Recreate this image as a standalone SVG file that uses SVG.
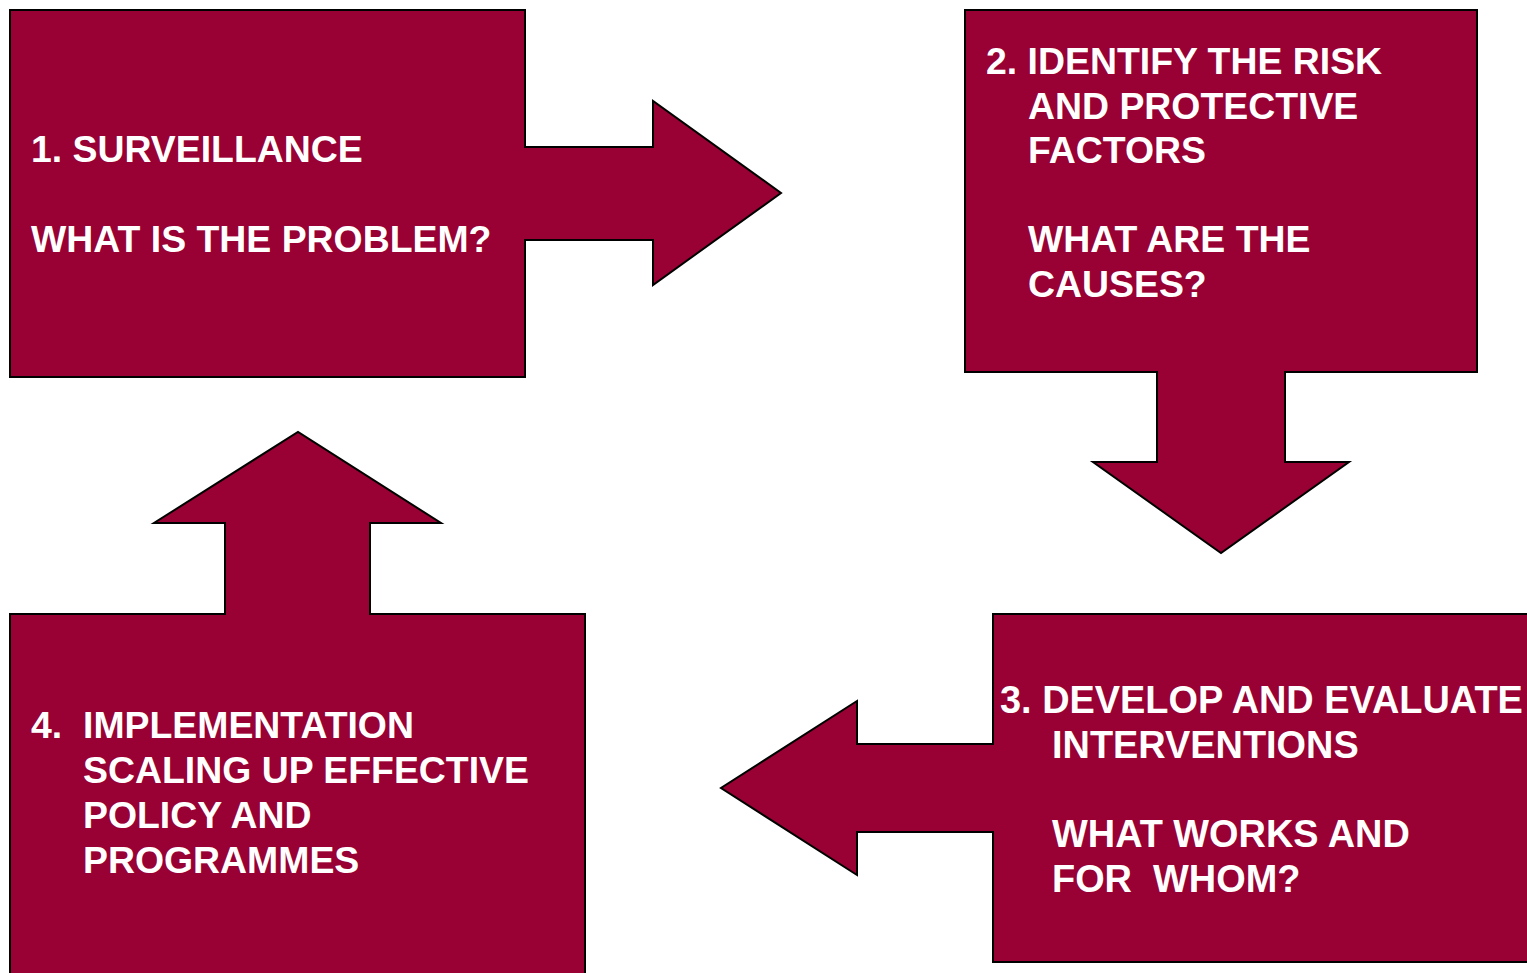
<svg xmlns="http://www.w3.org/2000/svg" width="1527" height="973" viewBox="0 0 1527 973">
<style>
.shape{fill:#990033;stroke:#000;stroke-width:2;stroke-linejoin:miter}
.t{font-family:"Liberation Sans",Arial,sans-serif;font-weight:bold;font-size:37.4px;fill:#fff;white-space:pre}
.t3{font-size:37.9px}
</style>
<rect width="1527" height="973" fill="#fff"/>
<g id="node1">
<path class="shape" d="M10,10 H525 V147 H653 V101 L781,193 L653,285 V240 H525 V377 H10 Z"/>
<text class="t" x="31" y="162">1. SURVEILLANCE</text>
<text class="t" x="31" y="252">WHAT IS THE PROBLEM?</text>
</g>
<g id="node2">
<path class="shape" d="M965,10 H1477 V372 H1285 V462 H1349 L1221,553 L1093,462 H1157 V372 H965 Z"/>
<text class="t" x="986" y="74">2. IDENTIFY THE RISK</text>
<text class="t" x="1028" y="119">AND PROTECTIVE</text>
<text class="t" x="1028" y="163">FACTORS</text>
<text class="t" x="1028" y="252">WHAT ARE THE</text>
<text class="t" x="1028" y="297">CAUSES?</text>
</g>
<g id="node3">
<path class="shape" d="M993,614 H1540 V962 H993 V832 H857 V875 L721,788 L857,701 V744 H993 Z"/>
<text class="t t3" x="1000" y="713">3. DEVELOP AND EVALUATE</text>
<text class="t t3" x="1052" y="758">INTERVENTIONS</text>
<text class="t t3" x="1052" y="847">WHAT WORKS AND</text>
<text class="t t3" x="1052" y="892" xml:space="preserve">FOR  WHOM?</text>
</g>
<g id="node4">
<path class="shape" d="M10,614 H225 V523 H154 L298,432 L441,523 H370 V614 H585 V985 H10 Z"/>
<text class="t" x="31" y="738">4.</text>
<text class="t" x="83" y="738">IMPLEMENTATION</text>
<text class="t" x="83" y="783">SCALING UP EFFECTIVE</text>
<text class="t" x="83" y="828">POLICY AND</text>
<text class="t" x="83" y="873">PROGRAMMES</text>
</g>
<g id="connectors"></g>
</svg>
